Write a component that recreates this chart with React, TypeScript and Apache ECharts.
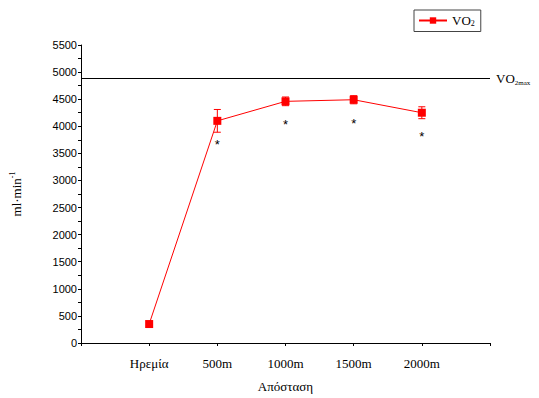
import React, { useEffect, useRef } from "react";
import * as echarts from "echarts";

const categories = ["", "Ηρεμία", "500m", "1000m", "1500m", "2000m", ""];
const vo2Mean: (number | null)[] = [null, 350, 4100, 4460, 4490, 4250, null];
const vo2Err: (number | null)[] = [null, 0, 210, 80, 75, 110, null];
const significant = [false, false, true, true, true, true, false];
const vo2max = 4880;
const yTicks = { min: 0, max: 5500, interval: 500 };

const serif = "'Liberation Serif', 'Times New Roman', serif";
const sans = "'Liberation Sans', Arial, sans-serif";

export default function App() {
  const ref = useRef<HTMLDivElement>(null);
  useEffect(() => {
    if (!ref.current) return;
    document.body.style.margin = "0";
    const chart = echarts.init(ref.current, undefined, { renderer: "svg" });
    const lineData = vo2Mean.map((v, i) => ({
      value: v,
      label: { show: significant[i] },
    }));
    const errData = vo2Mean
      .map((v, i) => (v !== null && vo2Err[i] ? [i, v - (vo2Err[i] as number), v + (vo2Err[i] as number)] : null))
      .filter((d) => d !== null);
    chart.setOption({
      animation: false,
      backgroundColor: "#fff",
      grid: { left: 80, right: 49, top: 45, bottom: 49, containLabel: false },
      legend: {
        left: 414,
        top: 10,
        itemWidth: 28,
        itemHeight: 8,
        itemGap: 4,
        padding: [4, 6, 4, 4],
        borderColor: "#444",
        borderWidth: 1,
        data: [{ name: "VO2" }],
        formatter: () => "{a|VO}{b|2}",
        textStyle: {
          rich: {
            a: { fontFamily: serif, fontSize: 13, color: "#000" },
            b: { fontFamily: serif, fontSize: 8, color: "#000", verticalAlign: "bottom", padding: [6, 0, 0, 0] },
          },
        },
      },
      xAxis: {
        type: "category",
        data: categories,
        boundaryGap: false,
        name: "Απόσταση",
        nameLocation: "middle",
        nameGap: 37,
        nameTextStyle: { fontFamily: serif, fontSize: 13, color: "#000" },
        axisLine: { lineStyle: { color: "#000", width: 1 } },
        axisTick: { show: true, length: 3, lineStyle: { color: "#000" } },
        axisLabel: { fontFamily: serif, fontSize: 13, color: "#000", margin: 14 },
        splitLine: { show: false },
      },
      yAxis: {
        type: "value",
        min: yTicks.min,
        max: yTicks.max,
        interval: yTicks.interval,
        name: "{a|ml·min}{b|-1}",
        nameLocation: "middle",
        nameGap: 57,
        nameRotate: 90,
        nameTextStyle: {
          rich: {
            a: { fontFamily: serif, fontSize: 13, color: "#000" },
            b: { fontFamily: serif, fontSize: 8, color: "#000", verticalAlign: "top", padding: [0, 0, 8, 0] },
          },
        },
        axisLine: { show: true, lineStyle: { color: "#000", width: 1 } },
        axisTick: { show: true, length: 3, lineStyle: { color: "#000" } },
        minorTick: { show: true, splitNumber: 2, length: 3, lineStyle: { color: "#000" } },
        axisLabel: { fontFamily: sans, fontSize: 11, color: "#000", margin: 4, formatter: (v: number) => String(v) },
        splitLine: { show: false },
      },
      series: [
        {
          name: "VO2",
          type: "line",
          data: lineData,
          symbol: "rect",
          symbolSize: 8,
          lineStyle: { color: "#ff0000", width: 1 },
          itemStyle: { color: "#ff0000" },
          label: {
            show: false,
            position: "bottom",
            distance: 13,
            formatter: "*",
            fontFamily: sans,
            fontSize: 13,
            color: "#000",
          },
          markLine: {
            silent: true,
            symbol: "none",
            lineStyle: { color: "#000", width: 1, type: "solid" },
            label: {
              position: "end",
              distance: 6,
              formatter: "{a|VO}{b|2max}",
              rich: {
                a: { fontFamily: serif, fontSize: 13, color: "#000" },
                b: { fontFamily: serif, fontSize: 7, color: "#000", verticalAlign: "bottom", padding: [8, 0, 0, 0] },
              },
            },
            data: [{ yAxis: vo2max }],
          },
          z: 3,
        },
        {
          type: "custom",
          data: errData,
          z: 2,
          renderItem: (params: any, api: any) => {
            const i = api.value(0);
            const lo = api.coord([i, api.value(1)]);
            const hi = api.coord([i, api.value(2)]);
            const w = 3.5;
            const style = { stroke: "#ff0000", lineWidth: 1 };
            return {
              type: "group",
              children: [
                { type: "line", shape: { x1: lo[0], y1: lo[1], x2: hi[0], y2: hi[1] }, style },
                { type: "line", shape: { x1: lo[0] - w, y1: lo[1], x2: lo[0] + w, y2: lo[1] }, style },
                { type: "line", shape: { x1: hi[0] - w, y1: hi[1], x2: hi[0] + w, y2: hi[1] }, style },
              ],
            };
          },
        },
      ],
    });
    return () => chart.dispose();
  }, []);
  return <div ref={ref} style={{ width: 539, height: 398 }} />;
}
